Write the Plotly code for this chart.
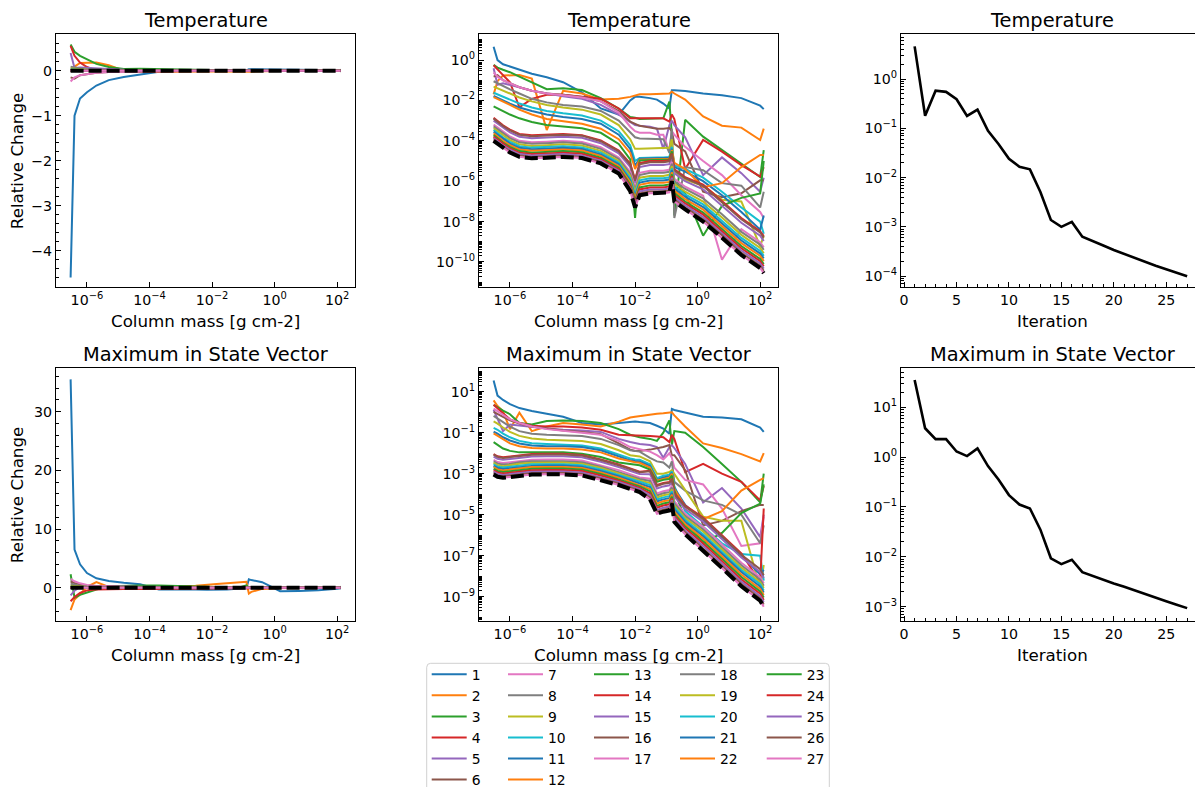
import numpy as np
import plotly.graph_objects as go

W, H = 1195, 787

# Column-mass grid (g cm^-2) shared by every iteration profile
COLUMN_MASS = [3.0e-7, 4.0e-7, 6.0e-7, 1.0e-6, 2.0e-6, 5.0e-6, 1.5e-5, 5.0e-5, 2.0e-4, 8.0e-4,
               3.0e-3, 7.0e-3, 1.0e-2, 1.4e-2, 3.0e-2, 5.0e-2, 8.0e-2, 1.25e-1, 1.5e-1, 1.8e-1,
               4.0e-1, 1.5, 6.0, 25.0, 100.0, 130.0]

# Relative temperature change per iteration
T01 = [-4.6, -1.0, -0.62, -0.48, -0.33, -0.21, -0.14, -0.08, -0.025, 4e-3, 2e-3, 1e-2, 1.5e-2, 1.5e-2, 1.3e-2, 1.1e-2, 7e-3, 4e-3, 3.2e-2, 3.2e-2, 2.9e-2, 2.2e-2, 1.8e-2, 1.3e-2, 5.5e-3, 3.7e-3]
T02 = [-0.02, 0.09, 0.17, 0.18, 0.18, 0.12, -3.4e-4, -0.03, -0.022, -0.011, -0.012, -0.015, -0.018, -0.02, -0.02, -0.021, -0.022, -0.022, -0.027, -0.022, -0.011, -1.6e-3, -5.6e-4, -4.5e-4, -1.1e-4, -4e-4]
T03 = [0.58, 0.42, 0.33, 0.25, 0.15, 0.08, 0.036, 0.04, 0.033, 0.013, 4e-3, 1.5e-3, 1.4e-3, 1.2e-3, 1.2e-3, 1.2e-3, 1.3e-3, 8.7e-3, 2e-4, 2e-8, 1.1e-3, 1.6e-4, 3.5e-5, 8e-6, 1.6e-6, 3.5e-5]
T04 = [0.55, 0.33, 0.18, 0.08, 4.6e-3, -0.012, -0.019, -0.019, -0.015, -0.012, -4e-3, -1.3e-3, -1.3e-3, -1.3e-3, -1.3e-3, -1.3e-3, -1.3e-3, -9e-4, -2e-3, -1.2e-3, 4e-6, 1.1e-4, 2.9e-5, 6.3e-6, 1.7e-6, 5e-6]
T05 = [0.39, 0.06, 0.07, 0.06, 0.045, 0.03, 0.022, 0.016, 0.012, 6e-3, 2e-3, 8e-4, 6e-4, 5.5e-4, 5e-4, 4e-4, 4e-5, 6e-4, 1e-3, 6e-4, 1.5e-4, 2e-6, 1.5e-5, 2.5e-6, 3e-7, 1.5e-6]
T06 = [-0.15, -0.178, -0.1, -0.07, -0.045, -0.03, -0.022, -0.019, -0.015, -9e-3, -3e-3, -9e-4, -7e-4, -5.5e-4, -4.5e-4, -4e-4, -4e-4, -4.3e-4, -3e-4, -7e-5, -3e-5, -3e-7, -1.6e-7, -2.5e-7, -1.1e-6, -1.1e-6]
T07 = [-0.24, -0.15, -0.1, -0.07, -0.045, -0.03, -0.022, -0.018, -0.014, -9e-3, -2.5e-3, -5e-4, -3e-4, -2.5e-4, -2.5e-4, -2e-4, -2e-4, -3e-5, -3e-4, -2e-4, -5e-5, -1e-5, -2e-6, -2e-7, -3e-8, -1.5e-8]
T08 = [0.089, 0.07, 0.05, 0.035, 0.022, 0.012, 8e-3, 6e-3, 5e-3, 3e-3, 1e-3, 2.5e-4, 1.5e-4, 1.3e-4, 1.3e-4, 1.3e-4, 1.2e-4, 2.5e-5, 4e-4, 1.5e-8, 5e-6, 3.5e-6, 8e-7, 6e-7, 5e-8, 3e-7]
T09 = [0.048, 0.04, 0.03, 0.022, 0.014, 9e-3, 6e-3, 4.5e-3, 3.5e-3, 2e-3, 6e-4, 1.2e-4, 4e-5, 4e-5, 4.2e-5, 4.2e-5, 4.2e-5, 4.5e-5, 1.2e-4, 3e-6, 1.2e-6, 6e-7, 1.2e-7, 1e-7, 6e-10, 2e-9]
T10 = [0.024, 0.02, 0.015, 0.011, 7e-3, 4.5e-3, 3e-3, 2.3e-3, 1.8e-3, 1e-3, 3e-4, 6e-5, 1e-5, 1.4e-5, 1.5e-5, 1.5e-5, 1.5e-5, 1.6e-5, 5e-5, 6e-6, 4e-6, 1.5e-6, 3e-7, 5e-8, 1e-8, 2.5e-9]
T11 = [0.0166, 0.013, 0.01, 7e-3, 4.5e-3, 3e-3, 2e-3, 1.5e-3, 1.2e-3, 7e-4, 2e-4, 4e-5, 6e-6, 1.3e-5, 1.35e-5, 1.35e-5, 1.35e-5, 1.45e-5, 4e-5, 5e-6, 3e-6, 1e-6, 2e-7, 3e-8, 4e-9, 2e-8]
T12 = [0.0147, 0.012, 9e-3, 6e-3, 3.5e-3, 2e-3, 1.2e-3, 9e-4, 7e-4, 4e-4, 1.2e-4, 2.5e-5, 4e-6, 1.15e-5, 1.2e-5, 1.2e-5, 1.2e-5, 1.3e-5, 3.5e-5, 8e-6, 4e-6, 5e-7, 8e-7, 5e-6, 2e-5, 2e-5]
T13 = [5.1e-3, 4e-3, 3e-3, 2e-3, 1.3e-3, 8.5e-4, 6e-4, 5e-4, 4.2e-4, 2.5e-4, 7e-5, 1.2e-5, 1.5e-8, 1.05e-5, 1.1e-5, 1.1e-5, 1.1e-5, 1.2e-5, 3e-5, 1e-6, 2.5e-7, 2e-9, 6e-8, 1.5e-7, 2.5e-7, 1e-5]
T14 = [1.38e-3, 9.8e-4, 5.9e-4, 3.6e-4, 2.2e-4, 1.9e-4, 2.0e-4, 2.2e-4, 1.9e-4, 1.05e-4, 3.3e-5, 7.5e-6, 1.2e-6, 7.9e-6, 9.9e-6, 9.9e-6, 9.9e-6, 1.1e-5, 2.3e-5, 3.9e-6, 1.6e-6, 6.7e-7, 1.07e-7, 1.5e-8, 3.3e-9, 1.9e-9]
T15 = [1.0e-3, 7.1e-4, 4.3e-4, 2.6e-4, 1.6e-4, 1.35e-4, 1.45e-4, 1.6e-4, 1.4e-4, 7.6e-5, 2.4e-5, 5.1e-6, 7.9e-7, 5.0e-6, 6.3e-6, 6.3e-6, 6.3e-6, 7.0e-6, 1.6e-5, 2.5e-6, 1.0e-6, 4.0e-7, 6.4e-8, 8.8e-9, 2.0e-9, 1.1e-9]
T16 = [1.26e-3, 8.9e-4, 5.4e-4, 3.3e-4, 2.0e-4, 1.7e-4, 1.8e-4, 2.0e-4, 1.8e-4, 9.6e-5, 3.0e-5, 6.7e-6, 1.05e-6, 6.9e-6, 8.7e-6, 8.7e-6, 8.7e-6, 9.7e-6, 2.1e-5, 3.5e-6, 1.4e-6, 5.8e-7, 9.2e-8, 1.3e-8, 2.9e-9, 1.6e-9]
T17 = [6.3e-4, 4.5e-4, 2.7e-4, 1.64e-4, 1.0e-4, 8.5e-5, 9.1e-5, 1.0e-4, 8.8e-5, 4.8e-5, 1.5e-5, 2.9e-6, 4.6e-7, 2.6e-6, 3.3e-6, 3.3e-6, 3.3e-6, 3.7e-6, 9.1e-6, 1.3e-6, 5.3e-7, 1.9e-7, 1.3e-10, 4.2e-9, 9.6e-10, 5.3e-10]
T18 = [5.2e-4, 3.7e-4, 2.3e-4, 1.37e-4, 8.4e-5, 7.1e-5, 7.6e-5, 8.4e-5, 7.4e-5, 4.0e-5, 1.26e-5, 2.3e-6, 3.7e-7, 2.0e-6, 2.6e-6, 2.6e-6, 2.6e-6, 2.9e-6, 7.3e-6, 1.0e-6, 4.1e-7, 1.4e-7, 2.3e-8, 3.1e-9, 7.1e-10, 4.0e-10]
T19 = [4.2e-4, 3.0e-4, 1.8e-4, 1.08e-4, 6.7e-5, 5.6e-5, 6.0e-5, 6.7e-5, 5.8e-5, 3.2e-5, 1.0e-5, 1.8e-6, 2.8e-7, 1.5e-6, 1.8e-6, 1.8e-6, 1.8e-6, 2.1e-6, 5.5e-6, 7.4e-7, 3.0e-7, 9.8e-8, 1.6e-8, 2.2e-9, 4.9e-10, 2.7e-10]
T20 = [3.4e-4, 2.4e-4, 1.46e-4, 8.8e-5, 5.4e-5, 4.6e-5, 4.9e-5, 5.4e-5, 4.7e-5, 2.6e-5, 8.1e-6, 1.4e-6, 2.2e-7, 1.1e-6, 1.4e-6, 1.4e-6, 1.4e-6, 1.55e-6, 4.3e-6, 5.5e-7, 2.2e-7, 7.1e-8, 1.13e-8, 1.55e-9, 3.5e-10, 2.0e-10]
T21 = [2.8e-4, 2.0e-4, 1.2e-4, 7.3e-5, 4.5e-5, 3.8e-5, 4.1e-5, 4.5e-5, 3.9e-5, 2.1e-5, 6.8e-6, 1.1e-6, 1.7e-7, 8.5e-7, 1.07e-6, 1.07e-6, 1.07e-6, 1.2e-6, 3.5e-6, 4.3e-7, 1.7e-7, 5.2e-8, 8.4e-9, 1.15e-9, 2.6e-10, 1.5e-10]
T22 = [2.34e-4, 1.66e-4, 1.0e-4, 6.1e-5, 3.7e-5, 3.2e-5, 3.4e-5, 3.7e-5, 3.3e-5, 1.8e-5, 5.6e-6, 8.9e-7, 1.4e-7, 6.6e-7, 8.3e-7, 8.3e-7, 8.3e-7, 9.2e-7, 2.8e-6, 3.3e-7, 1.3e-7, 3.9e-8, 6.2e-9, 8.6e-10, 2.0e-10, 1.1e-10]
T23 = [1.91e-4, 1.36e-4, 8.2e-5, 5.0e-5, 3.1e-5, 2.6e-5, 2.8e-5, 3.1e-5, 2.7e-5, 1.45e-5, 4.6e-6, 6.9e-7, 1.1e-7, 4.9e-7, 6.2e-7, 6.2e-7, 6.2e-7, 6.9e-7, 2.2e-6, 2.5e-7, 9.9e-8, 2.8e-8, 4.5e-9, 6.2e-10, 1.4e-10, 7.9e-11]
T24 = [1.62e-4, 1.15e-4, 7.0e-5, 4.2e-5, 2.6e-5, 2.2e-5, 2.35e-5, 2.6e-5, 2.3e-5, 1.23e-5, 3.9e-6, 5.7e-7, 9.0e-8, 3.9e-7, 4.9e-7, 4.9e-7, 4.9e-7, 5.5e-7, 1.8e-6, 2.0e-7, 7.9e-8, 2.2e-8, 3.5e-9, 4.8e-10, 1.1e-10, 6.1e-11]
T25 = [1.38e-4, 9.8e-5, 5.9e-5, 3.6e-5, 2.2e-5, 1.9e-5, 2.0e-5, 2.2e-5, 1.9e-5, 1.05e-5, 3.3e-6, 4.7e-7, 7.4e-8, 3.1e-7, 3.9e-7, 3.9e-7, 3.9e-7, 4.4e-7, 1.5e-6, 1.6e-7, 6.3e-8, 1.7e-8, 2.7e-9, 3.7e-10, 8.4e-11, 4.7e-11]
T26 = [1.17e-4, 8.3e-5, 5.0e-5, 3.0e-5, 1.9e-5, 1.6e-5, 1.7e-5, 1.9e-5, 1.6e-5, 8.9e-6, 2.8e-6, 3.9e-7, 6.1e-8, 2.5e-7, 3.1e-7, 3.1e-7, 3.1e-7, 3.5e-7, 1.2e-6, 1.25e-7, 5.0e-8, 1.3e-8, 2.1e-9, 2.8e-10, 6.5e-11, 3.6e-11]
T27 = [1.0e-4, 7.1e-5, 4.3e-5, 2.6e-5, 1.6e-5, 1.35e-5, 1.45e-5, 1.6e-5, 1.4e-5, 7.6e-6, 2.4e-6, 3.2e-7, 5.0e-8, 2.0e-7, 2.5e-7, 2.5e-7, 2.5e-7, 2.8e-7, 1.0e-6, 1.0e-7, 4.0e-8, 1.0e-8, 1.6e-9, 2.2e-10, 5.0e-11, 2.8e-11]

# Relative change of the largest state-vector component per iteration
S01 = [35.5, 6.5, 4.0, 2.5, 1.6, 1.15, 0.85, 0.6, -0.3, -0.25, -0.3, -0.35, -0.35, -0.33, -0.3, -0.22, -0.16, -0.09, 1.45, 1.3, 0.95, -0.6, -0.55, -0.45, -0.18, -0.11]
S02 = [-3.8, -2.0, -1.1, 0.15, 0.95, 0.12, 0.2, 0.3, 0.25, 0.2, 0.35, 0.55, 0.6, 0.65, 0.75, 0.85, 0.9, 1.0, -1.0, -0.7, -0.2, -0.03, -0.018, -9e-3, -4e-3, -0.01]
S03 = [2.3, -1.7, -1.2, -0.8, -0.3, 0.25, 0.37, 0.4, 0.37, 0.3, 0.15, 0.08, 0.07, 0.06, 0.05, 0.04, 0.1, 0.4, 0.025, 0.12, 0.1, 0.02, 3e-3, 4e-4, 4e-5, 1.0e-3]
S04 = [-2.3, -1.6, -0.9, -0.45, -0.3, -0.22, -0.2, -0.2, -0.18, -0.14, -0.08, -0.075, -0.075, -0.07, -0.07, -0.065, -0.06, -0.035, -0.08, -0.05, 1.2e-3, 3e-3, 1e-3, 4e-4, 5e-5, 2.5e-4]
S05 = [-1.3, -0.5, 0.12, 0.25, 0.22, 0.19, 0.16, 0.14, 0.13, 0.11, 0.05, 0.035, 0.03, 0.028, 0.025, 0.02, 6e-3, 0.02, 0.025, 0.018, 3e-3, 4e-5, 2e-4, 2e-5, 8e-7, 1e-5]
S06 = [1.05, 0.8, 0.6, 0.4, 0.28, 0.2, 0.16, 0.13, 0.11, 0.085, 0.03, 0.015, 0.013, 0.013, 0.015, 0.017, 0.02, 0.025, 8e-3, 8e-3, 1.5e-3, 3e-6, 5e-6, 1.5e-5, 3e-5, 3e-5]
S07 = [1.5, 1.1, 0.75, 0.45, 0.3, 0.2, 0.15, 0.12, 0.1, 0.08, 0.04, 0.02, 0.018, 0.016, 0.012, 8e-3, 5e-3, 0.01, 6e-3, 2e-3, 5e-4, 3e-4, 2e-5, 3e-7, 4e-7, 8e-6]
S08 = [0.66, 0.5, 0.33, 0.2, 0.12, 0.09, 0.08, 0.078, 0.07, 0.05, 0.025, 0.014, 0.013, 0.012, 6e-3, 4e-3, 3.5e-3, 2e-3, 4e-3, 4e-4, 1.5e-4, 5e-5, 3e-5, 1e-5, 4e-7, 3e-6]
S09 = [0.355, 0.28, 0.18, 0.11, 0.07, 0.052, 0.046, 0.044, 0.04, 0.028, 0.014, 8e-3, 7.5e-3, 7e-3, 4e-3, 1e-3, 1e-3, 1.2e-3, 1.5e-3, 1e-3, 1.5e-4, 8e-6, 5e-6, 5e-6, 2.5e-9, 3.5e-8]
S10 = [0.173, 0.14, 0.09, 0.06, 0.04, 0.031, 0.028, 0.027, 0.024, 0.017, 8.5e-3, 5.5e-3, 5e-3, 4.8e-3, 2.9e-3, 6e-4, 8e-4, 9e-4, 1.3e-3, 2.5e-4, 1.5e-5, 2.5e-6, 4e-7, 1.2e-7, 1e-7, 6e-9]
S11 = [0.112, 0.09, 0.06, 0.042, 0.03, 0.024, 0.022, 0.022, 0.02, 0.014, 7e-3, 4.5e-3, 4.2e-3, 4e-3, 2.4e-3, 5e-4, 6.5e-4, 7.5e-4, 1.1e-3, 2e-4, 3e-5, 5e-6, 8e-7, 1e-7, 1.2e-8, 2e-8]
S12 = [0.093, 0.07, 0.045, 0.03, 0.022, 0.018, 0.017, 0.017, 0.015, 0.011, 5.5e-3, 4e-3, 3.6e-3, 3.4e-3, 2.0e-3, 4.5e-4, 5.5e-4, 6.5e-4, 1e-3, 1.8e-4, 2.5e-5, 6e-6, 1.5e-5, 1.5e-4, 5e-4, 6e-4]
S13 = [0.035, 0.025, 0.017, 0.013, 0.011, 0.011, 0.011, 0.011, 9.5e-3, 6.5e-3, 3.5e-3, 3e-3, 2.8e-3, 2.6e-3, 1.6e-3, 4e-4, 5e-4, 5.5e-4, 8e-4, 1.5e-4, 6e-6, 4e-7, 1.3e-6, 1.2e-5, 3.5e-5, 3e-4]
S14 = [9.1e-3, 7.1e-3, 6.3e-3, 6.9e-3, 8.3e-3, 9.1e-3, 9.3e-3, 9.3e-3, 8.3e-3, 5.0e-3, 2.8e-3, 1.8e-3, 1.5e-3, 1.26e-3, 1.4e-3, 2.8e-4, 3.5e-4, 4.0e-4, 5.5e-4, 1.1e-4, 2.8e-5, 7.2e-6, 1.0e-6, 1.3e-7, 5e-9, 2e-5]
S15 = [6.9e-3, 5.4e-3, 4.8e-3, 5.2e-3, 6.3e-3, 6.9e-3, 7.1e-3, 7.1e-3, 6.3e-3, 3.8e-3, 2.1e-3, 1.37e-3, 1.14e-3, 9.6e-4, 9.5e-4, 1.9e-4, 2.4e-4, 2.7e-4, 4.0e-4, 7.7e-5, 1.9e-5, 4.6e-6, 6.4e-7, 8.2e-8, 1.6e-8, 8.2e-9]
S16 = [8.5e-3, 6.6e-3, 5.9e-3, 6.4e-3, 7.7e-3, 8.5e-3, 8.7e-3, 8.7e-3, 7.7e-3, 4.7e-3, 2.6e-3, 1.7e-3, 1.4e-3, 1.18e-3, 1.3e-3, 2.5e-4, 3.2e-4, 3.6e-4, 5.1e-4, 1.0e-4, 2.5e-5, 6.4e-6, 8.9e-7, 1.1e-7, 2.2e-8, 1.1e-8]
S17 = [4.8e-3, 3.7e-3, 3.3e-3, 3.6e-3, 4.4e-3, 4.8e-3, 4.9e-3, 4.9e-3, 4.4e-3, 2.6e-3, 1.5e-3, 9.5e-4, 7.9e-4, 6.6e-4, 5.7e-4, 1.1e-4, 1.4e-4, 1.6e-4, 2.6e-4, 4.6e-5, 1.1e-5, 2.5e-6, 3.5e-7, 4.5e-8, 8.9e-9, 4.5e-9]
S18 = [4.0e-3, 3.1e-3, 2.8e-3, 3.0e-3, 3.6e-3, 4.0e-3, 4.1e-3, 4.1e-3, 3.6e-3, 2.2e-3, 1.2e-3, 7.9e-4, 6.6e-4, 5.5e-4, 4.4e-4, 8.7e-5, 1.1e-4, 1.26e-4, 2.1e-4, 3.5e-5, 8.7e-6, 1.9e-6, 2.6e-7, 3.4e-8, 6.7e-9, 3.4e-9]
S19 = [3.4e-3, 2.6e-3, 2.3e-3, 2.6e-3, 3.1e-3, 3.4e-3, 3.5e-3, 3.5e-3, 3.1e-3, 1.9e-3, 1.04e-3, 6.7e-4, 5.6e-4, 4.7e-4, 3.5e-4, 6.9e-5, 8.8e-5, 1.0e-4, 1.7e-4, 2.8e-5, 6.9e-6, 1.5e-6, 2.0e-7, 2.6e-8, 5.1e-9, 2.6e-9]
S20 = [2.9e-3, 2.2e-3, 2.0e-3, 2.2e-3, 2.6e-3, 2.9e-3, 2.9e-3, 2.9e-3, 2.6e-3, 1.6e-3, 8.8e-4, 5.7e-4, 4.7e-4, 4.0e-4, 2.8e-4, 5.5e-5, 7.0e-5, 8.0e-5, 1.4e-4, 2.3e-5, 5.5e-6, 1.1e-6, 1.6e-7, 2.0e-8, 4.0e-9, 2.0e-9]
S21 = [2.4e-3, 1.9e-3, 1.7e-3, 1.86e-3, 2.2e-3, 2.4e-3, 2.5e-3, 2.5e-3, 2.2e-3, 1.35e-3, 7.5e-4, 4.8e-4, 4.0e-4, 3.4e-4, 2.2e-4, 4.4e-5, 5.6e-5, 6.4e-5, 1.15e-4, 1.8e-5, 4.4e-6, 8.8e-7, 1.2e-7, 1.6e-8, 3.1e-9, 1.6e-9]
S22 = [2.1e-3, 1.63e-3, 1.44e-3, 1.58e-3, 1.9e-3, 2.1e-3, 2.1e-3, 2.1e-3, 1.9e-3, 1.15e-3, 6.4e-4, 4.1e-4, 3.4e-4, 2.9e-4, 1.8e-4, 3.5e-5, 4.5e-5, 5.1e-5, 9.5e-5, 1.4e-5, 3.5e-6, 6.8e-7, 9.4e-8, 1.2e-8, 2.4e-9, 1.2e-9]
S23 = [1.74e-3, 1.36e-3, 1.2e-3, 1.32e-3, 1.59e-3, 1.74e-3, 1.78e-3, 1.78e-3, 1.59e-3, 9.6e-4, 5.3e-4, 3.4e-4, 2.9e-4, 2.4e-4, 1.4e-4, 2.7e-5, 3.5e-5, 4.0e-5, 7.6e-5, 1.1e-5, 2.7e-6, 5.1e-7, 7.0e-8, 9.0e-9, 1.8e-9, 9.0e-10]
S24 = [1.47e-3, 1.15e-3, 1.02e-3, 1.12e-3, 1.34e-3, 1.47e-3, 1.5e-3, 1.5e-3, 1.34e-3, 8.1e-4, 4.5e-4, 2.9e-4, 2.4e-4, 2.0e-4, 1.1e-4, 2.2e-5, 2.8e-5, 3.2e-5, 6.3e-5, 8.9e-6, 2.2e-6, 3.9e-7, 5.4e-8, 6.9e-9, 1.4e-9, 6.9e-10]
S25 = [1.26e-3, 9.8e-4, 8.7e-4, 9.5e-4, 1.15e-3, 1.26e-3, 1.28e-3, 1.28e-3, 1.15e-3, 6.9e-4, 3.9e-4, 2.5e-4, 2.1e-4, 1.74e-4, 8.8e-5, 1.7e-5, 2.2e-5, 2.5e-5, 5.1e-5, 7.1e-6, 1.7e-6, 3.0e-7, 4.2e-8, 5.4e-9, 1.06e-9, 5.4e-10]
S26 = [1.06e-3, 8.3e-4, 7.4e-4, 8.1e-4, 9.7e-4, 1.06e-3, 1.09e-3, 1.09e-3, 9.7e-4, 5.9e-4, 3.3e-4, 2.1e-4, 1.75e-4, 1.47e-4, 7.0e-5, 1.4e-5, 1.75e-5, 2.0e-5, 4.2e-5, 5.6e-6, 1.4e-6, 2.3e-7, 3.2e-8, 4.1e-9, 8.1e-10, 4.1e-10]
S27 = [9.1e-4, 7.1e-4, 6.3e-4, 6.9e-4, 8.3e-4, 9.1e-4, 9.3e-4, 9.3e-4, 8.3e-4, 5.0e-4, 2.8e-4, 1.8e-4, 1.5e-4, 1.26e-4, 5.6e-5, 1.1e-5, 1.4e-5, 1.6e-5, 3.5e-5, 4.5e-6, 1.1e-6, 1.8e-7, 2.5e-8, 3.2e-9, 6.3e-10, 3.2e-10]

TEMPERATURE = [T01, T02, T03, T04, T05, T06, T07, T08, T09, T10, T11, T12, T13, T14,
               T15, T16, T17, T18, T19, T20, T21, T22, T23, T24, T25, T26, T27]
STATE = [S01, S02, S03, S04, S05, S06, S07, S08, S09, S10, S11, S12, S13, S14,
         S15, S16, S17, S18, S19, S20, S21, S22, S23, S24, S25, S26, S27]
ITERATIONS = list(range(1, len(TEMPERATURE) + 1))

# Convergence history: largest absolute change over depth in each iteration
CONV_T = [float(np.max(np.abs(p))) for p in TEMPERATURE]
CONV_S = [float(np.max(np.abs(p))) for p in STATE]

TAB10 = ["#1f77b4", "#ff7f0e", "#2ca02c", "#d62728", "#9467bd",
         "#8c564b", "#e377c2", "#7f7f7f", "#bcbd22", "#17becf"]

FONT = "DejaVu Sans"
TICK_FONT = dict(family=FONT, size=14.2, color="black")
LABEL_SIZE = 16.7
TITLE_SIZE = 19.4


def px_x(p):
    return p / W


def px_y(p):
    return 1 - p / H


def pow_label(p):
    return "10<sup>" + ("\u2212" if p < 0 else "") + str(abs(p)) + "</sup>"


# Panel frames in pixels
COLS = [(56, 355), (479, 778), (901, 1195)]
ROWS = [(34, 287), (368, 621)]


def dom_x(c):
    return [px_x(COLS[c][0]), px_x(COLS[c][1])]


def dom_y(r):
    return [px_y(ROWS[r][1]), px_y(ROWS[r][0])]


def axis(**kw):
    d = dict(showline=True, linecolor="black", linewidth=1.1, mirror=True,
             ticks="inside", ticklen=4.9, tickwidth=1.1, tickcolor="black",
             showgrid=False, zeroline=False, tickfont=TICK_FONT)
    d.update(kw)
    return d


MINOR_LOG = dict(ticks="inside", ticklen=2.8, tickwidth=0.8, tickcolor="black", dtick="D1", showgrid=False)

depth_ticks = dict(type="log", range=[-6.99, 2.57], tickmode="array",
                   tickvals=[1e-6, 1e-4, 1e-2, 1, 1e2],
                   ticktext=[pow_label(p) for p in (-6, -4, -2, 0, 2)])


def log_ticks(powers):
    return dict(type="log", tickmode="array", tickvals=[10.0 ** p for p in powers],
                ticktext=[pow_label(p) for p in powers], minor=MINOR_LOG)


fig = go.Figure()

LEGEND_IDS = ["legend"] * 6 + ["legend2"] * 6 + ["legend3"] * 5 + ["legend4"] * 5 + ["legend5"] * 5

for i, (tp, sp) in enumerate(zip(TEMPERATURE, STATE)):
    line = dict(color=TAB10[i % 10], width=2)
    name = str(ITERATIONS[i])
    fig.add_trace(go.Scatter(x=COLUMN_MASS, y=tp, mode="lines", line=line, name=name,
                             legend=LEGEND_IDS[i], showlegend=True, xaxis="x", yaxis="y"))
    fig.add_trace(go.Scatter(x=COLUMN_MASS, y=np.abs(tp), mode="lines", line=line, name=name,
                             showlegend=False, xaxis="x2", yaxis="y2"))
    fig.add_trace(go.Scatter(x=COLUMN_MASS, y=sp, mode="lines", line=line, name=name,
                             showlegend=False, xaxis="x4", yaxis="y4"))
    fig.add_trace(go.Scatter(x=COLUMN_MASS, y=np.abs(sp), mode="lines", line=line, name=name,
                             showlegend=False, xaxis="x5", yaxis="y5"))

# Final iteration highlighted with a thick dashed black line
final_dash = dict(color="black", width=4, dash="13px,5px")
for xa, ya, vals in (("x", "y", TEMPERATURE[-1]), ("x2", "y2", np.abs(TEMPERATURE[-1])),
                     ("x4", "y4", STATE[-1]), ("x5", "y5", np.abs(STATE[-1]))):
    fig.add_trace(go.Scatter(x=COLUMN_MASS, y=vals, mode="lines", line=final_dash,
                             showlegend=False, xaxis=xa, yaxis=ya))

conv_line = dict(color="black", width=2.6)
fig.add_trace(go.Scatter(x=ITERATIONS, y=CONV_T, mode="lines", line=conv_line,
                         showlegend=False, xaxis="x3", yaxis="y3"))
fig.add_trace(go.Scatter(x=ITERATIONS, y=CONV_S, mode="lines", line=conv_line,
                         showlegend=False, xaxis="x6", yaxis="y6"))

iter_axis = dict(range=[-0.3, 27.75], tickmode="linear", tick0=0, dtick=5,
                 minor=dict(ticks="inside", ticklen=2.8, tickwidth=0.8, tickcolor="black", dtick=1))

layout = dict(
    width=W, height=H,
    margin=dict(l=0, r=0, t=0, b=0, autoexpand=False),
    paper_bgcolor="white", plot_bgcolor="white",
    font=dict(family=FONT, color="black"),
    xaxis=axis(domain=dom_x(0), anchor="y", **depth_ticks),
    yaxis=axis(domain=dom_y(0), anchor="x", range=[-4.81, 0.815], tickmode="linear", tick0=0, dtick=1,
               minor=dict(ticks="inside", ticklen=2.8, tickwidth=0.8, tickcolor="black", dtick=0.2)),
    xaxis2=axis(domain=dom_x(1), anchor="y2", **depth_ticks),
    yaxis2=axis(domain=dom_y(0), anchor="x2", range=[-11.24, 1.29], **log_ticks([0, -2, -4, -6, -8, -10])),
    xaxis3=axis(domain=dom_x(2), anchor="y3", **iter_axis),
    yaxis3=axis(domain=dom_y(0), anchor="x3", mirror=False, range=[-4.22, 0.914], **log_ticks([0, -1, -2, -3, -4])),
    xaxis4=axis(domain=dom_x(0), anchor="y4", **depth_ticks),
    yaxis4=axis(domain=dom_y(1), anchor="x4", range=[-5.67, 37.44], tickmode="linear", tick0=0, dtick=10,
                minor=dict(ticks="inside", ticklen=2.8, tickwidth=0.8, tickcolor="black", dtick=2)),
    xaxis5=axis(domain=dom_x(1), anchor="y5", **depth_ticks),
    yaxis5=axis(domain=dom_y(1), anchor="x5", range=[-10.19, 2.16], **log_ticks([1, -1, -3, -5, -7, -9])),
    xaxis6=axis(domain=dom_x(2), anchor="y6", **iter_axis),
    yaxis6=axis(domain=dom_y(1), anchor="x6", mirror=False, range=[-3.29, 1.79], **log_ticks([1, 0, -1, -2, -3])),
)

# One legend per column, filled top to bottom
LEGEND_LEFT = [426.7, 503.0, 589.0, 675.0, 761.7]
LEGEND_TOP = 658.7
for k, lid in enumerate(["legend", "legend2", "legend3", "legend4", "legend5"]):
    layout[lid] = dict(x=px_x(LEGEND_LEFT[k]), y=px_y(LEGEND_TOP), xanchor="left", yanchor="top",
                       bgcolor="rgba(0,0,0,0)", borderwidth=0, font=dict(family=FONT, size=13.9, color="black"),
                       itemwidth=35, tracegroupgap=0, orientation="v")

fig.update_layout(**layout)

annotations = []


def add_text(text, x_px, y_px, size, xanchor="center", yanchor="middle", angle=0):
    annotations.append(dict(text=text, x=px_x(x_px), y=px_y(y_px), xref="paper", yref="paper",
                            xanchor=xanchor, yanchor=yanchor, showarrow=False, textangle=angle,
                            font=dict(family=FONT, size=size, color="black")))


centers = [(COLS[0][0] + COLS[0][1]) / 2, (COLS[1][0] + COLS[1][1]) / 2, 1052]
for c in range(3):
    add_text("Temperature", centers[c], 20.5, TITLE_SIZE)
    add_text("Maximum in State Vector", centers[c], 354.5, TITLE_SIZE)
for c in range(2):
    add_text("Column mass [g cm-2]", centers[c], 320.5, LABEL_SIZE)
    add_text("Column mass [g cm-2]", centers[c], 654.5, LABEL_SIZE)
add_text("Iteration", centers[2], 320.5, LABEL_SIZE)
add_text("Iteration", centers[2], 654.5, LABEL_SIZE)
add_text("Relative Change", 16.7, (ROWS[0][0] + ROWS[0][1]) / 2, LABEL_SIZE, angle=-90)
add_text("Relative Change", 16.7, (ROWS[1][0] + ROWS[1][1]) / 2, LABEL_SIZE, angle=-90)

# Rounded frame around the legend block
x0, x1, y0, y1, r = 426.7, 829.3, 663.3, 805.0, 4.0
frame_path = (f"M {px_x(x0 + r)},{px_y(y0)} L {px_x(x1 - r)},{px_y(y0)} "
              f"Q {px_x(x1)},{px_y(y0)} {px_x(x1)},{px_y(y0 + r)} L {px_x(x1)},{px_y(y1)} "
              f"L {px_x(x0)},{px_y(y1)} L {px_x(x0)},{px_y(y0 + r)} "
              f"Q {px_x(x0)},{px_y(y0)} {px_x(x0 + r)},{px_y(y0)} Z")

fig.update_layout(
    annotations=annotations,
    shapes=[dict(type="path", path=frame_path, xref="paper", yref="paper",
                 line=dict(color="#d0d0d0", width=1), fillcolor="rgba(255,255,255,0.8)", layer="above")],
)

fig.write_html("out.html", config={"displayModeBar": False})
